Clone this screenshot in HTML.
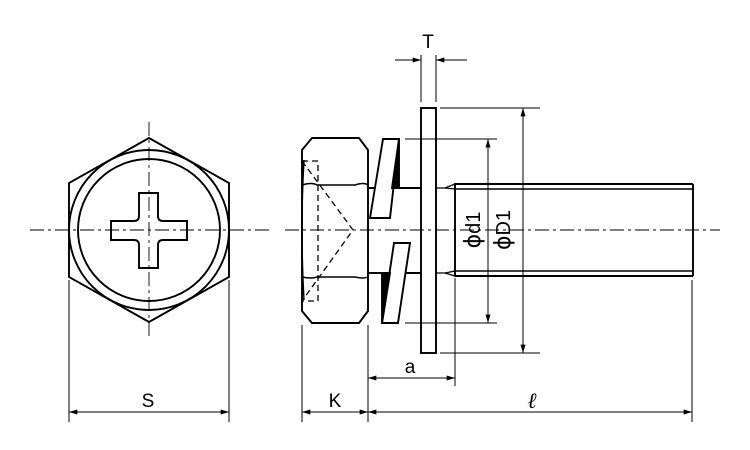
<!DOCTYPE html>
<html><head><meta charset="utf-8"><style>html,body{margin:0;padding:0;background:#fff}svg{display:block}</style></head>
<body>
<svg width="750" height="450" viewBox="0 0 750 450" xmlns="http://www.w3.org/2000/svg">
<defs>
<marker id="ar" viewBox="0 0 10 6" refX="10" refY="3" markerWidth="14" markerHeight="5" orient="auto-start-reverse" markerUnits="userSpaceOnUse"><path d="M0,0 L10,3 L0,6 z" fill="#000"/></marker>
</defs>
<g fill="none" stroke="#000" stroke-width="1.9">
<polygon points="149,138 229,183 229,277 149,322 69,277 69,183"/>
<circle cx="149" cy="230" r="80"/>
<circle cx="149" cy="230" r="71"/>
<path d="M139,193 H158 V216 Q158,221 163,221 H187 V240 H163 Q158,240 158,245 V268 H139 V245 Q139,240 134,240 H111 V221 H134 Q139,221 139,216 Z"/>
<path d="M312,138 H359 L368,150 V311 L359,323 H312 L302,311 V150 Z"/>
<path d="M302,185 Q312,182 317,185 H355 Q364,182 368,185" stroke-width="1.5"/>
<path d="M302,277 Q312,279 317,277 H355 Q364,279 368,277" stroke-width="1.5"/>
<path d="M304,160 Q300,230 304,300" stroke-width="1.4"/>
<line x1="368" y1="188" x2="421" y2="188"/>
<line x1="368" y1="273" x2="421" y2="273"/>
<polygon points="383,139 399,139 390,218 370,218" fill="#fff"/>
<polygon points="392,188 399,139 399,188" fill="#000"/>
<polygon points="394,243 410,243 398,323 382,323" fill="#fff"/>
<polygon points="382,273 390,273 382,323" fill="#000"/>
<rect x="421" y="108" width="15" height="245" fill="#fff"/>
<path d="M693,184 H455 V276 H693"/>
<line x1="455" y1="189" x2="693" y2="189" stroke-width="1.5"/>
<line x1="455" y1="271" x2="693" y2="271" stroke-width="1.5"/>
<line x1="693" y1="184" x2="693" y2="276"/>
<path d="M436,188 H445 L455,184 M445,188 L455,189 M436,273 H445 L455,276 M445,273 L455,271" stroke-width="1.3"/>
</g>
<g fill="none" stroke="#000" stroke-width="1.3" stroke-dasharray="6,4">
<rect x="302" y="161" width="16" height="140"/>
<path d="M302,161 L353,230 L302,301"/>
</g>
<g stroke="#000" stroke-width="0.9" stroke-dasharray="14,4,3,4">
<line x1="30" y1="230" x2="270" y2="230"/>
<line x1="149" y1="122" x2="149" y2="338"/>
<line x1="285" y1="230" x2="720" y2="230"/>
</g>
<g stroke="#000" stroke-width="1">
<line x1="69" y1="280" x2="69" y2="422"/><line x1="229" y1="280" x2="229" y2="422"/>
<line x1="302" y1="325" x2="302" y2="422"/><line x1="368" y1="325" x2="368" y2="422"/>
<line x1="692" y1="280" x2="692" y2="422"/>
<line x1="455" y1="278" x2="455" y2="386"/>
<line x1="421" y1="55" x2="421" y2="102"/><line x1="436" y1="55" x2="436" y2="102"/>
<line x1="440" y1="108" x2="540" y2="108"/><line x1="440" y1="353" x2="540" y2="353"/>
<line x1="405" y1="139" x2="497" y2="139"/><line x1="405" y1="323" x2="497" y2="323"/>
<line x1="69" y1="412" x2="229" y2="412" marker-start="url(#ar)" marker-end="url(#ar)"/>
<line x1="302" y1="412" x2="368" y2="412" marker-start="url(#ar)" marker-end="url(#ar)"/>
<line x1="368" y1="412" x2="692" y2="412" marker-start="url(#ar)" marker-end="url(#ar)"/>
<line x1="368" y1="378" x2="455" y2="378" marker-start="url(#ar)" marker-end="url(#ar)"/>
<line x1="488" y1="139" x2="488" y2="323" marker-start="url(#ar)" marker-end="url(#ar)"/>
<line x1="523" y1="108" x2="523" y2="353" marker-start="url(#ar)" marker-end="url(#ar)"/>
<line x1="395" y1="60" x2="421" y2="60" marker-end="url(#ar)"/>
<line x1="467" y1="60" x2="436" y2="60" marker-end="url(#ar)"/>
</g>
<g font-family="Liberation Sans, sans-serif" font-size="19" fill="#000" text-anchor="middle">
<text x="148" y="407">S</text>
<text x="335" y="407">K</text>
<text x="410" y="373">a</text>
<text x="532" y="408" font-family="Liberation Serif, serif" font-style="italic" font-size="22">ℓ</text>
<text x="428" y="48">T</text>
<text transform="translate(480,230) rotate(-90)" font-size="20"><tspan font-family="DejaVu Sans, sans-serif" font-size="22">ϕ</tspan>d1</text>
<text transform="translate(510,230) rotate(-90)" font-size="20"><tspan font-family="DejaVu Sans, sans-serif" font-size="22">ϕ</tspan>D1</text>
</g>
</svg>
</body></html>
